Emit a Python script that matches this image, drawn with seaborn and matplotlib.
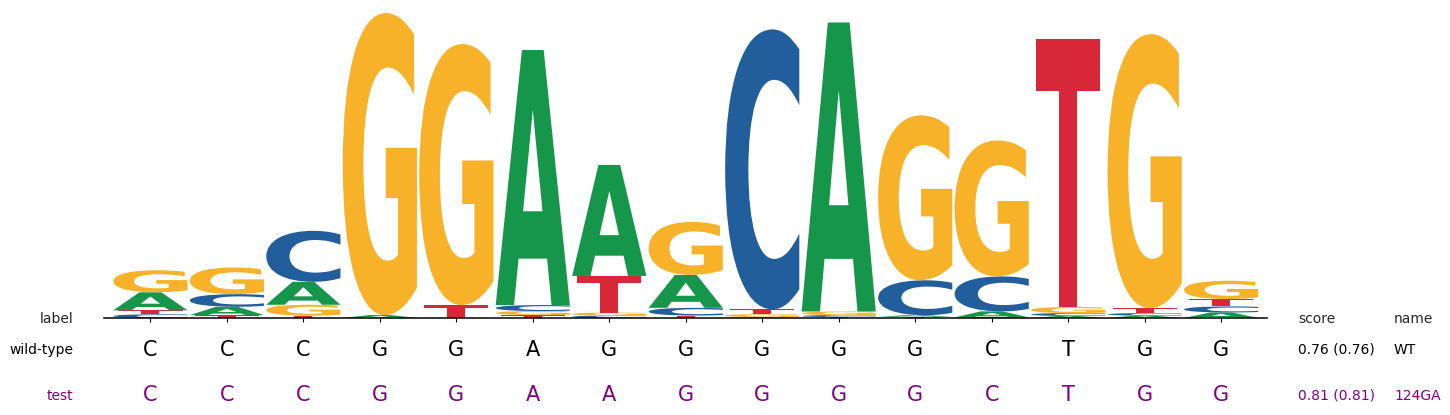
import numpy as np
import pandas as pd
import matplotlib
matplotlib.use('Agg')
import matplotlib.pyplot as plt
import seaborn as sns
from matplotlib.textpath import TextPath
from matplotlib.patches import PathPatch
from matplotlib.font_manager import FontProperties
from matplotlib.transforms import Affine2D, blended_transform_factory


# information content (bits) per base at each position
positions = list(range(15))
bits_A = [0.117, 0.054, 0.149, 0.019, 0.0, 1.656, 0.721, 0.214, 0.006, 1.877, 0.010, 0.039, 0.013, 0.015, 0.036]
bits_C = [0.024, 0.082, 0.331, 0.0, 0.0, 0.039, 0.016, 0.050, 1.818, 0.013, 0.227, 0.227, 0.019, 0.017, 0.039]
bits_G = [0.143, 0.173, 0.071, 1.961, 1.695, 0.026, 0.019, 0.344, 0.019, 0.023, 1.071, 0.883, 0.039, 1.779, 0.119]
bits_T = [0.026, 0.019, 0.015, 0.0, 0.084, 0.019, 0.238, 0.016, 0.031, 0.006, 0.008, 0.004, 1.740, 0.032, 0.048]

wild_type = list('CCCGGAGGGGGCTGG')
test_seq = list('CCCGGAAGGGGCTGG')

row_labels = ['wild-type', 'test']
row_scores = ['0.76 (0.76)', '0.81 (0.81)']
row_names = ['WT', '124GA']
row_colors = ['black', 'purple']

base_colors = {'A': '#16964a', 'C': '#235e9c', 'G': '#f8b229', 'T': '#d7283a'}
base_widths = {'A': 0.97, 'C': 0.97, 'G': 0.97, 'T': 0.84}

df = pd.DataFrame({'A': bits_A, 'C': bits_C, 'G': bits_G, 'T': bits_T}, index=positions)

sns.set_style('white')
glyph_font = FontProperties(family='DejaVu Sans', weight='bold')


def draw_letter(ax, ch, x, bottom, height):
    if height <= 0:
        return
    width = base_widths[ch]
    path = TextPath((0, 0), ch, size=1, prop=glyph_font)
    ext = path.get_extents()
    t = (Affine2D().translate(-ext.x0, -ext.y0)
         .scale(width / ext.width, height / ext.height)
         .translate(x - width / 2, bottom))
    ax.add_patch(PathPatch(t.transform_path(path), facecolor=base_colors[ch],
                           edgecolor='none', lw=0))


W, H = 1450, 415
fig = plt.figure(figsize=(W / 100, H / 100), dpi=100)
ax = fig.add_axes([104.5 / W, (H - 318) / H, 1162.5 / W, 308 / H])

for pos, row in df.iterrows():
    bottom = 0.0
    for ch, val in row.sort_values().items():
        draw_letter(ax, ch, pos, bottom, val)
        bottom += val

ax.set_xlim(-0.6, 14.6)
ax.set_ylim(0, 2)
ax.set_xticks(positions)
ax.set_yticks([])
ax.tick_params(axis='x', bottom=True, length=3, width=0.8, color='black', labelbottom=False)
sns.despine(ax=ax, left=True)
ax.spines['bottom'].set_color('black')
ax.spines['bottom'].set_linewidth(1.1)

trans = blended_transform_factory(ax.transData, fig.transFigure)


def fy(px):
    return 1 - px / H


# header row
fig.text(73.5 / W, fy(322.5), 'label', ha='right', va='baseline', fontsize=10)
fig.text(1298 / W, fy(322.5), 'score', ha='left', va='baseline', fontsize=10)
fig.text(1394 / W, fy(322.5), 'name', ha='left', va='baseline', fontsize=10)

label_base = [353.5, 399.5]
seq_base = [355.5, 400.5]
for i, seq in enumerate([wild_type, test_seq]):
    c = row_colors[i]
    fig.text(73.5 / W, fy(label_base[i]), row_labels[i], ha='right', va='baseline',
             fontsize=10, color=c)
    for pos, ch in zip(positions, seq):
        ax.text(pos, fy(seq_base[i]), ch, transform=trans, ha='center', va='baseline',
                fontsize=15, color=c)
    fig.text(1298 / W, fy(label_base[i]), row_scores[i], ha='left', va='baseline',
             fontsize=10, color=c)
    fig.text(1394 / W, fy(label_base[i]), row_names[i], ha='left', va='baseline',
             fontsize=10, color=c)

fig.savefig('out.png', dpi=100)
